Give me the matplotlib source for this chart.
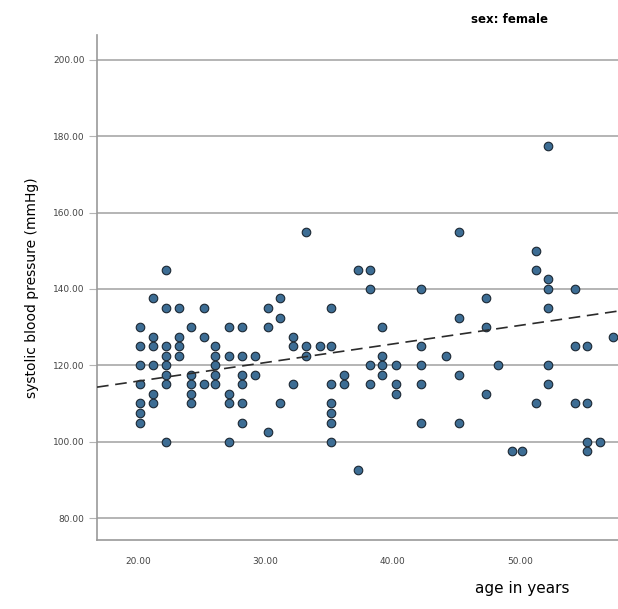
import numpy as np
import matplotlib
matplotlib.use("Agg")
from matplotlib import pyplot as plt

# age (years) and systolic blood pressure (mmHg)
age = [20.2]*7 + [21.2]*6 + [22.2]*8 + [23.2]*4 + [24.2]*5 + [25.2]*3 + [26.1]*5 \
    + [27.2]*5 + [28.2]*6 + [29.2]*2 + [30.2]*3 + [31.2]*3 + [32.2]*3 + [33.2]*3 \
    + [34.3] + [35.2]*7 + [36.2]*2 + [37.3]*2 + [38.2]*4 + [39.2]*4 + [40.3]*3 \
    + [42.2]*5 + [44.2] + [45.2]*4 + [47.3]*3 + [48.3] + [49.4] + [50.2] \
    + [51.3]*3 + [52.2]*6 + [54.3]*3 + [55.3]*4 + [56.3] + [57.3]
sbp = [130, 125, 120, 115, 110, 107.5, 105,
       137.5, 127.5, 125, 120, 112.5, 110,
       145, 135, 125, 122.5, 120, 117.5, 115, 100,
       135, 127.5, 125, 122.5,
       130, 117.5, 115, 112.5, 110,
       135, 127.5, 115,
       125, 122.5, 120, 117.5, 115,
       130, 122.5, 112.5, 110, 100,
       130, 122.5, 117.5, 115, 110, 105,
       122.5, 117.5,
       135, 130, 102.5,
       137.5, 132.5, 110,
       127.5, 125, 115,
       155, 125, 122.5,
       125,
       135, 125, 115, 110, 107.5, 105, 100,
       117.5, 115,
       145, 92.5,
       145, 140, 120, 115,
       130, 122.5, 120, 117.5,
       120, 115, 112.5,
       140, 125, 120, 115, 105,
       122.5,
       155, 132.5, 117.5, 105,
       137.5, 130, 112.5,
       120,
       97.5,
       97.5,
       150, 145, 110,
       177.5, 142.5, 140, 135, 120, 115,
       140, 125, 110,
       125, 110, 100, 97.5,
       100,
       127.5]

# fit line as drawn in the reference (full sample, overlapping points included)
fit_intercept = 106.1
fit_slope = 0.487

y_ticks = [80, 100, 120, 140, 160, 180, 200]
x_ticks = [20, 30, 40, 50]

fig = plt.figure(figsize=(6.18, 6.09), dpi=100)
ax = fig.add_axes([0.157, 0.113, 0.843, 0.8295])

ax.set_xlim(16.8, 57.7)
ax.set_ylim(74.2, 206.5)

for t in y_ticks:
    ax.axhline(t, color="#b4b4b4", lw=1.4, zorder=1)

ax.scatter(age, sbp, s=38, facecolor="#3d6d94", edgecolor="#1c2833",
           linewidth=0.8, zorder=3)

xs = np.array(ax.get_xlim())
ax.plot(xs, fit_intercept + fit_slope*xs, color="#2b2b2b", lw=1.2,
        ls=(0, (7, 4)), zorder=4)

ax.set_xticks(x_ticks)
ax.set_xticklabels(["%.2f" % t for t in x_ticks])
ax.set_yticks(y_ticks)
ax.set_yticklabels(["%.2f" % t for t in y_ticks])
ax.tick_params(axis="y", length=6, color="#b4b4b4", labelsize=6.5,
               labelcolor="#444444", pad=3)
ax.tick_params(axis="x", length=0, labelsize=6.5, labelcolor="#444444", pad=12)

for side in ["top", "right"]:
    ax.spines[side].set_visible(False)
for side in ["left", "bottom"]:
    ax.spines[side].set_color("#999999")
    ax.spines[side].set_linewidth(1.2)

ax.set_ylabel("systolic blood pressure (mmHg)", fontsize=10, labelpad=10)
fig.text(0.845, 0.026, "age in years", fontsize=11, ha="center")
fig.text(0.825, 0.962, "sex: female", fontsize=8.5, ha="center", weight="bold")

fig.savefig("out.png")
